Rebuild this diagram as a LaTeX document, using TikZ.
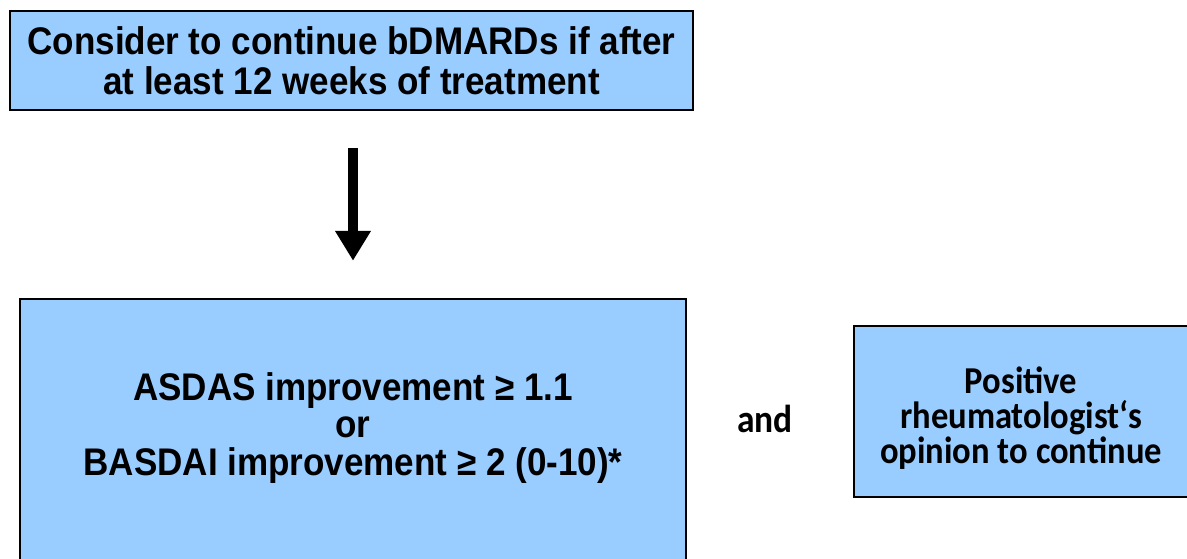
\documentclass[tikz,border=0pt]{standalone}
\usepackage{fontspec}
\setmainfont{Liberation Sans}[FakeStretch=0.91]
\newfontfamily\calib{Carlito}[FakeStretch=0.91]
\usetikzlibrary{arrows.meta}
\definecolor{boxblue}{RGB}{153,204,255}
\begin{document}
\begin{tikzpicture}[x=1pt,y=-1pt,
  box/.style={draw=black, line width=2.5pt, fill=boxblue, align=center, inner sep=0pt},
  arialtxt/.style={font=\bfseries\fontsize{38.5}{40}\selectfont},
  critxt/.style={align=center, inner sep=0pt, font=\bfseries\fontsize{38.5}{37.5}\selectfont},
  calibtxt/.style={align=center, inner sep=0pt, font=\calib\bfseries\fontsize{38}{35}\selectfont}]
\useasboundingbox (0,0) rectangle (1187,559);
\clip (0,0) rectangle (1187,559);
\node[box, arialtxt, minimum width=683pt, minimum height=99pt] (top) at (351.5,60.5)
  {Consider to continue bDMARDs if after\\at least 12 weeks of treatment};
\node[box, minimum width=666pt, minimum height=280pt] (crit) at (353,439) {};
\node[critxt] (crittext) at (353,428)
  {ASDAS improvement ≥ 1.1\\or\\BASDAI improvement ≥ 2 (0-10)*};
\node[box, minimum width=336pt, minimum height=171pt] (opin) at (1022,411.5) {};
\node[calibtxt] (opintext) at (1021,418)
  {Positive\\rheumatologist‘s\\opinion to continue};
\node[calibtxt, font=\calib\bfseries\fontsize{39}{36}\selectfont, anchor=base] (and) at (765,432) {and};
\coordinate (ax) at (353,0);
\draw[line width=10pt, -{Triangle[width=34pt,length=30pt]}, shorten <=37pt, shorten >=37pt]
  (top.south -| ax) -- (crit.north -| ax);
\end{tikzpicture}
\end{document}
